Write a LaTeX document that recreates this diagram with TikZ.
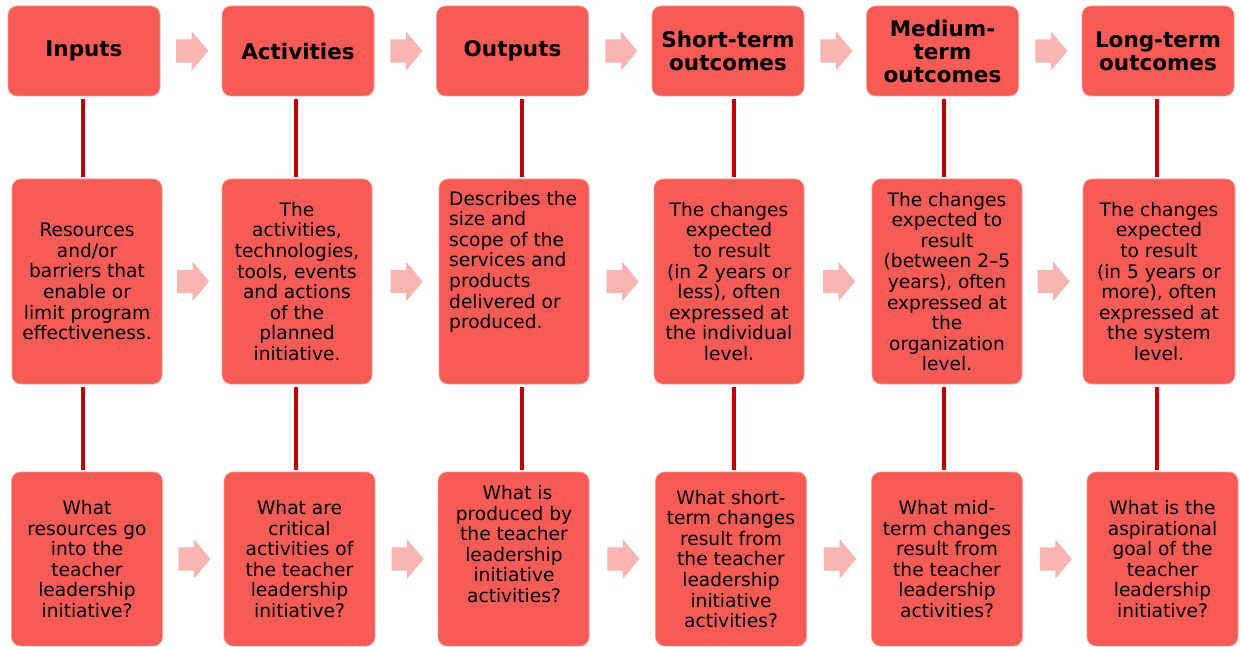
\documentclass[tikz,border=0pt]{standalone}
\usepackage{fontspec}
\setmainfont{DejaVu Sans}
\usetikzlibrary{shapes.arrows,calc}

\definecolor{boxred}{HTML}{F65B55}
\definecolor{arrowpink}{HTML}{F9B5B2}
\definecolor{linkred}{HTML}{C00000}

\tikzset{
  box/.style={fill=boxred, draw=boxred!60!white, line width=0.7pt,
              rounded corners=9pt, inner sep=0pt},
  head/.style={font=\bfseries\fontsize{21.5}{23}\selectfont, align=center, text=black},
  body/.style={font=\fontsize{18.6}{20.6}\selectfont, align=center, text=black, inner sep=0pt},
  flow/.style={single arrow, fill=arrowpink, draw=none, inner xsep=0pt, inner ysep=11.5pt,
               single arrow head extend=8pt, single arrow tip angle=100,
               minimum height=32pt, anchor=tail},
  link/.style={draw=linkred, line width=3.2pt, shorten <=3pt, shorten >=2pt},
  toprow/.style={box, head, minimum width=152pt, minimum height=90pt},
  midrow/.style={box, body, minimum width=150pt, minimum height=205pt},
  lowrow/.style={box, body, minimum width=151pt, minimum height=174pt}
}

\begin{document}
\begin{tikzpicture}[x=1pt,y=-1pt]
  \fill[white] (0,0) rectangle (1241,647);
  \useasboundingbox (0,0) rectangle (1241,647);

  % ---- headings ----
  \node[toprow] (t1) at (84,51)    {Inputs};
  \node[toprow] (t2) at (298,51)   {Activities};
  \node[toprow] (t3) at (512.5,51) {Outputs};
  \node[toprow] (t4) at (728,51)   {Short-term\\outcomes};
  \node[toprow] (t5) at (942.5,51) {Medium-\\term\\outcomes};
  \node[toprow] (t6) at (1158,51)  {Long-term\\outcomes};

  % ---- descriptions ----
  \node[midrow] (m1) at (87,281.5)   {Resources\\and/or\\barriers that\\enable or\\limit program\\effectiveness.};
  \node[midrow] (m2) at (297,281.5)  {The\\activities,\\technologies,\\tools, events\\and actions\\of the\\planned\\initiative.};
  \node[midrow] (m3) at (514,281.5)  {};
  \node[body, align=left, anchor=west] (m3t) at (449,261.7)
    {Describes the\\size and\\scope of the\\services and\\products\\delivered or\\produced.};
  \node[midrow] (m4) at (729,281.5)  {The changes\\expected\\\hspace*{6pt}to result\\(in 2 years or\\less), often\\expressed at\\the individual\\level.};
  \node[midrow] (m5) at (947,281.5)  {The changes\\expected to\\result\\(between 2–5\\years), often\\expressed at\\the\\organization\\level.};
  \node[midrow, minimum width=152pt] (m6) at (1159,281.5) {The changes\\expected\\to result\\(in 5 years or\\more), often\\expressed at\\the system\\level.};

  % ---- guiding questions ----
  \node[lowrow] (b1) at (87,559)     {What\\resources go\\into the\\teacher\\leadership\\initiative?};
  \node[lowrow] (b2) at (299.5,559)  {What are\\critical\\activities of\\the teacher\\leadership\\initiative?};
  \node[lowrow] (b3) at (513.5,559)  {};
  \node[body] (b3t) at (514,544)
    {\hspace*{7pt}What is\\produced by\\the teacher\\leadership\\initiative\\activities?};
  \node[lowrow] (b4) at (731,559)    {What short-\\term changes\\result from\\the teacher\\leadership\\initiative\\activities?};
  \node[lowrow] (b5) at (947,559)    {What mid-\\term changes\\result from\\the teacher\\leadership\\activities?};
  \node[lowrow] (b6) at (1162.5,559) {What is the\\aspirational\\goal of the\\teacher\\leadership\\initiative?};

  % ---- flow arrows between columns ----
  \foreach \r in {t,m,b}{
    \foreach \i/\j in {1/2,2/3,3/4,4/5,5/6}{
      \node[flow] (\r-a\i) at ([xshift=-15pt]$(\r\i.east)!0.5!(\r\j.west)$) {};
    }
  }

  % ---- vertical links ----
  \draw[link] ([xshift=-1pt]t1.south)   -- ([xshift=-1pt]t1.south   |- m1.north);
  \draw[link] ([xshift=-2pt]t2.south)   -- ([xshift=-2pt]t2.south   |- m2.north);
  \draw[link] ([xshift=9.5pt]t3.south)  -- ([xshift=9.5pt]t3.south  |- m3.north);
  \draw[link] ([xshift=6pt]t4.south)    -- ([xshift=6pt]t4.south    |- m4.north);
  \draw[link] ([xshift=1.5pt]t5.south)  -- ([xshift=1.5pt]t5.south  |- m5.north);
  \draw[link] ([xshift=-1pt]t6.south)   -- ([xshift=-1pt]t6.south   |- m6.north);

  \draw[link] ([xshift=-4pt]m1.south)   -- ([xshift=-4pt]m1.south   |- b1.north);
  \draw[link] ([xshift=-1pt]m2.south)   -- ([xshift=-1pt]m2.south   |- b2.north);
  \draw[link] ([xshift=8pt]m3.south)    -- ([xshift=8pt]m3.south    |- b3.north);
  \draw[link] ([xshift=5pt]m4.south)    -- ([xshift=5pt]m4.south    |- b4.north);
  \draw[link] ([xshift=-3pt]m5.south)   -- ([xshift=-3pt]m5.south   |- b5.north);
  \draw[link] ([xshift=-2pt]m6.south)   -- ([xshift=-2pt]m6.south   |- b6.north);
\end{tikzpicture}
\end{document}
